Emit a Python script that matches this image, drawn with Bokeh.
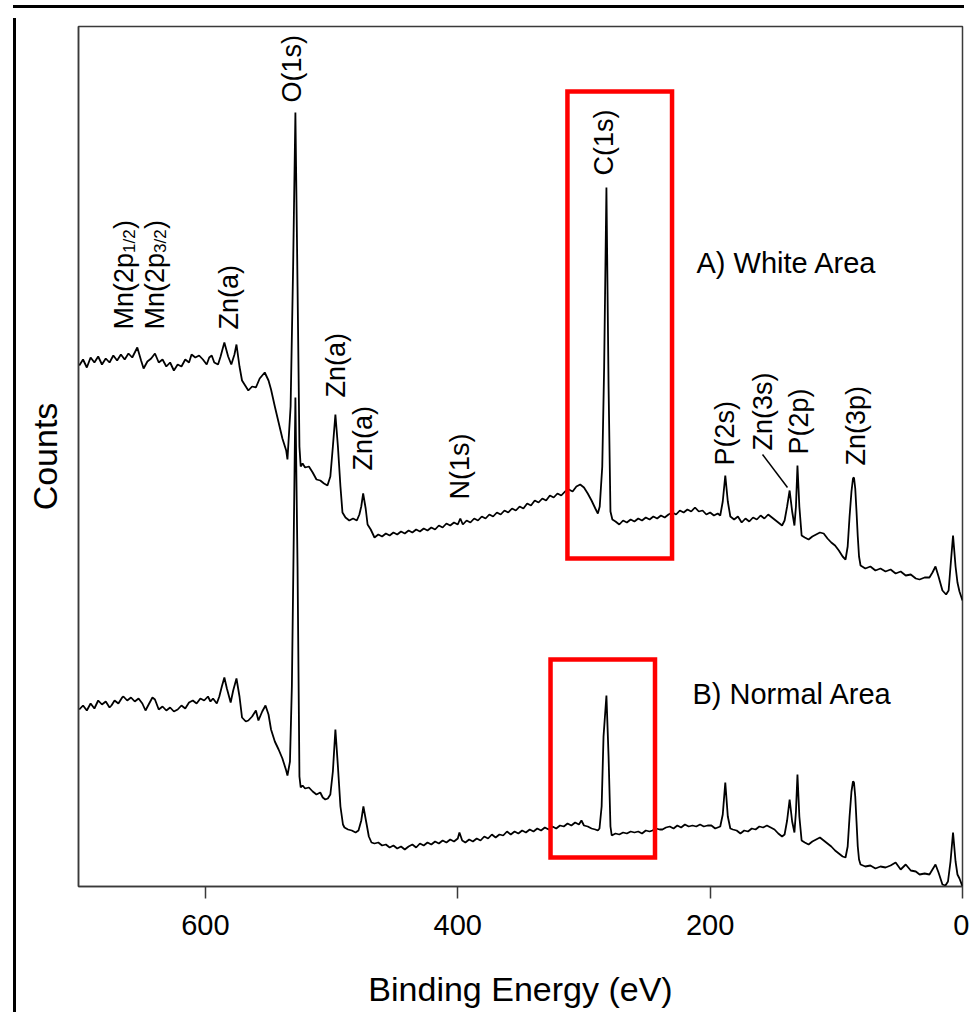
from math import pi
from bokeh.plotting import figure
from bokeh.models import Range1d, FixedTicker, Div, Spacer
from bokeh.core.properties import value
from bokeh.embed import file_html
from bokeh.resources import INLINE
from bokeh.layouts import column, row

FONT = "Liberation Sans"

# ---------------- data (binding energy in eV, counts in arbitrary units) ----------------
energy_A = [700, 697, 694, 691, 688, 685, 682, 679, 676, 673, 670, 667, 664, 661, 658, 654, 651, 649, 646, 643,
            640, 637, 634, 631, 628, 625, 622, 619, 616, 613, 611, 608, 605, 602, 599, 597, 595, 593, 590, 588,
            585, 582, 579.5, 577, 575.4, 573, 571, 568, 566, 563, 560, 557, 553, 550, 548, 545, 542, 539, 536, 535,
            532.5, 530.5, 528.7, 527, 525.5, 524.5, 523, 521, 518, 515, 512, 509, 506, 503.3, 501, 499, 497, 495, 493, 491.4,
            489, 486, 483, 480, 478, 476.5, 475, 473, 471.5, 469, 466, 463, 460, 457, 454, 451, 448, 445, 442, 439,
            436, 433, 430, 427, 424, 421, 418, 415, 412, 409, 406, 403, 400, 398, 396, 393, 390, 387, 384, 381,
            378, 375, 372, 369, 366, 363, 360, 357, 354, 351, 348, 345, 342, 339, 336, 333, 330, 327, 324, 321,
            318, 315, 312, 309, 306, 303, 300, 297, 294, 291, 289, 287.5, 285.5, 284, 282.2, 280.5, 279, 277.5, 275, 272,
            269, 266, 263, 260, 257, 254, 251, 248, 245, 242, 239, 236, 233, 230, 227, 224, 221, 218, 215, 212,
            209, 206, 203, 200, 197, 194, 192, 190, 188, 186, 184, 181, 178, 175, 172, 169, 166, 163, 160, 157,
            154, 151, 148, 145, 143, 141, 139, 137, 135, 133.2, 132, 130.8, 129.3, 127.5, 125, 122, 119, 116, 113, 110,
            107, 104, 101, 98, 95, 92.7, 91, 89.5, 88, 86.8, 86, 85, 84, 83, 82, 80.8, 77, 73, 69, 65,
            61, 57, 53, 49, 45, 41, 37, 34, 30, 26.2, 23.8, 21.4, 19, 15.9, 13, 11, 9.5, 7.5, 5.5, 4,
            2.4, 0]
counts_A = [521, 527, 519, 529, 524, 530, 522, 528, 524, 531, 526, 532, 527, 533, 529, 539, 526, 518, 525, 528,
            533, 524, 527, 520, 524, 516, 522, 520, 527, 524, 532, 529, 531, 527, 522, 529, 531, 524, 522, 530,
            544, 530, 522, 532, 542, 520, 506, 500, 496, 500, 499, 508, 514, 506, 497, 480, 464, 448, 436, 427,
            480, 620, 774, 600, 440, 420, 423, 419, 420, 414, 407, 406, 403, 401, 410, 440, 472, 440, 400, 374,
            369, 366, 368, 366, 372, 380, 393, 378, 362, 357, 349, 352, 350, 353, 351, 354, 352, 355, 353, 356,
            354, 357, 355, 358, 356, 359, 357, 361, 359, 363, 361, 364, 362, 368, 362, 366, 364, 368, 366, 370,
            368, 372, 370, 374, 372, 376, 374, 378, 376, 380, 378, 383, 381, 386, 384, 388, 386, 391, 389, 393,
            391, 395, 397, 395, 400, 402, 399, 393, 386, 378, 373, 380, 420, 520, 699, 500, 375, 367, 365, 362,
            366, 364, 367, 365, 368, 366, 369, 367, 370, 368, 371, 369, 372, 374, 372, 376, 374, 377, 375, 379,
            375, 376, 372, 374, 371, 373, 371, 385, 411, 385, 370, 367, 370, 364, 368, 365, 369, 367, 371, 368,
            372, 369, 366, 363, 361, 366, 380, 396, 375, 361, 380, 421, 380, 351, 349, 347, 350, 352, 354, 353,
            348, 344, 341, 336, 330, 327, 340, 370, 395, 408, 409, 398, 375, 350, 330, 321, 318, 320, 316, 318,
            315, 317, 313, 315, 311, 312, 308, 307, 309, 309, 314, 320, 310, 296, 292, 296, 320, 351, 320, 304,
            295, 286]

energy_B = [700, 697, 694, 691, 688, 685, 682, 679, 676, 674.5, 672, 669, 666, 665, 662, 659, 656, 653, 650, 647.5,
            645, 642, 640, 637, 634, 631, 628, 625, 622, 619, 616, 613, 610, 607, 604, 601, 598, 596, 594, 591,
            589, 587, 585, 583, 580, 578, 575.4, 573, 571, 568, 566, 563, 560, 558, 555, 552.4, 550, 548, 545, 542,
            539, 536, 535, 533, 531.5, 530, 528.7, 527, 525.5, 524.5, 523, 521, 518, 515, 512, 509, 507, 505, 503, 501,
            499, 497, 495, 493, 491, 489.8, 487, 484, 481, 478.7, 476.5, 474.8, 472.5, 470.5, 468.4, 466, 463, 460, 457, 454,
            451, 448, 445, 442, 439, 436, 433, 430, 427, 424, 421, 418, 415, 412, 409, 406, 403, 400, 398.7, 396.5,
            394, 391, 388, 385, 382, 379, 376, 373, 370, 367, 364, 361, 358, 355, 352, 349, 346, 343, 340, 337,
            334, 331, 328, 325, 322, 319, 316, 313, 310, 307, 304, 302, 300, 297, 294, 291, 289, 287.7, 286, 284.5,
            282.2, 280.5, 279, 278, 275, 272, 269, 266, 263, 260, 257, 254, 251, 248, 245.7, 243, 240, 237.8, 235, 232,
            229, 226, 223, 220, 217, 214, 211, 208, 205, 202, 199, 196, 194, 192, 190, 188, 186, 184, 182, 179,
            176, 173, 170, 167, 164, 161, 158, 155, 152, 149, 146, 143, 141, 139, 137, 135, 133.2, 132, 130.8, 129.3,
            127.5, 125, 122, 119, 116, 113, 110, 107, 104, 101, 98, 95, 92.7, 91, 89.5, 88, 86.8, 86, 85, 84,
            83, 82, 80.8, 77, 73, 69, 65, 61, 57, 53, 49, 45, 41, 37, 34, 30, 26.2, 23.8, 21.4, 19,
            15.9, 13.5, 11.5, 9.5, 7.5, 5.5, 4, 2.4, 0]
counts_B = [177, 181, 176, 183, 178, 186, 182, 185, 179, 181, 186, 183, 189, 190, 186, 189, 185, 188, 183, 176,
            182, 189, 187, 177, 180, 176, 179, 175, 177, 181, 178, 184, 186, 183, 188, 186, 190, 185, 188, 183,
            190, 200, 209, 198, 184, 196, 208, 190, 169, 165, 166, 170, 176, 166, 175, 181, 172, 157, 145, 137,
            128, 116, 111, 125, 200, 350, 489, 320, 110, 99, 101, 98, 99, 95, 92, 94, 89, 87, 88, 92,
            115, 157, 120, 80, 62, 59, 57, 56, 54, 56, 66, 80, 64, 50, 44, 43, 44, 41, 42, 39,
            41, 38, 40, 37, 40, 42, 39, 43, 41, 44, 42, 45, 43, 46, 44, 47, 45, 48, 54, 46,
            44, 47, 45, 48, 46, 50, 48, 52, 49, 52, 51, 55, 52, 55, 53, 56, 54, 57, 55, 58,
            56, 59, 57, 60, 58, 61, 60, 63, 61, 64, 62, 66, 61, 60, 58, 57, 56, 58, 80, 150,
            191, 130, 60, 51, 53, 52, 54, 53, 55, 54, 55, 53, 56, 55, 56, 58, 57, 57, 59, 60,
            58, 61, 59, 62, 60, 61, 60, 62, 60, 61, 61, 58, 59, 60, 72, 104, 70, 58, 57, 56,
            53, 56, 55, 58, 57, 60, 59, 61, 59, 57, 53, 50, 52, 66, 87, 65, 54, 75, 112, 70,
            46, 44, 42, 45, 47, 49, 46, 43, 40, 36, 33, 30, 29, 40, 70, 95, 105, 104, 90, 65,
            40, 27, 22, 20, 21, 18, 20, 19, 21, 24, 17, 22, 16, 15, 12, 13, 12, 17, 22, 14,
            2, 1, 5, 25, 54, 25, 12, 8, 0]

xticks = [0, 200, 400, 600]

# ---------------- figure ----------------
p = figure(width=948, height=998, x_range=Range1d(700.6, 0), y_range=Range1d(0, 860),
           output_backend="svg", toolbar_location=None,
           min_border_left=57, min_border_right=7, min_border_top=13, min_border_bottom=125)
p.grid.visible = False
p.background_fill_color = "white"
p.border_fill_color = "white"
p.outline_line_color = "#3a3a3a"
p.outline_line_width = 1.5
p.outline_line_alpha = 1.0

xa = p.xaxis[0]
xa.ticker = FixedTicker(ticks=xticks)
xa.axis_line_color = "#3a3a3a"
xa.axis_line_width = 1.5
xa.major_tick_line_color = "#3a3a3a"
xa.major_tick_line_width = 1.5
xa.major_tick_in = 0
xa.major_tick_out = 12
xa.minor_tick_line_color = None
xa.major_label_text_font = FONT
xa.major_label_text_font_size = "29px"
xa.major_label_text_color = "black"
xa.major_label_standoff = 16
xa.axis_label = "Binding Energy (eV)"
xa.axis_label_text_font = FONT
xa.axis_label_text_font_size = "34px"
xa.axis_label_text_font_style = "normal"
xa.axis_label_text_color = "black"
xa.axis_label_standoff = 32

ya = p.yaxis[0]
ya.ticker = FixedTicker(ticks=[])
ya.axis_line_color = "#3a3a3a"
ya.axis_line_width = 1.5
ya.major_tick_out = 0
ya.major_tick_in = 0
ya.minor_tick_line_color = None
ya.major_label_text_font_size = "0px"
ya.axis_label = "Counts"
ya.axis_label_text_font = FONT
ya.axis_label_text_font_size = "34px"
ya.axis_label_text_font_style = "normal"
ya.axis_label_text_color = "black"
ya.axis_label_standoff = 15

# spectra
p.line(energy_A, counts_A, line_color="black", line_width=1.8)
p.line(energy_B, counts_B, line_color="black", line_width=1.8)

# red boxes around C(1s)
p.quad(left=[313.1], right=[230.2], top=[795], bottom=[328], fill_color=None,
       line_color="#ff0000", line_width=4.5, line_join="miter")
p.quad(left=[326.5], right=[243.7], top=[227], bottom=[29], fill_color=None,
       line_color="#ff0000", line_width=4.5, line_join="miter")

# rotated peak labels
lab_text = ["O(1s)", "Zn(a)", "Zn(a)", "Zn(a)", "N(1s)", "C(1s)", "P(2s)", "Zn(3s)", "P(2p)", "Zn(3p)"]
lab_x = [531.5, 581.5, 496.7, 475.3, 398.4, 283.8, 188.4, 158.3, 129.8, 84.6]
lab_y = [784, 557, 489, 416, 387, 711, 421, 436, 432, 421]
p.text(x=lab_x, y=lab_y, text=lab_text, angle=pi / 2, text_font=value(FONT), text_font_size="27px",
       text_align="left", text_baseline="alphabetic", text_color="black")

# Mn labels with subscripts
mn_x = [664.8, 640.2]
mn_y = [557, 557]
p.text(x=mn_x, y=mn_y, text=["Mn(2p", "Mn(2p"], angle=pi / 2, text_font=value(FONT),
       text_font_size="27px", text_align="left", text_baseline="alphabetic", text_color="black")
p.text(x=mn_x, y=mn_y, text=["1/2", "3/2"], angle=pi / 2, text_font=value(FONT),
       text_font_size="17px", text_align="left", text_baseline="alphabetic", text_color="black",
       x_offset=6, y_offset=-76.5)
p.text(x=mn_x, y=mn_y, text=[")", ")"], angle=pi / 2, text_font=value(FONT),
       text_font_size="27px", text_align="left", text_baseline="alphabetic", text_color="black",
       y_offset=-100.5)

# leader line for Zn(3s)
p.segment(x0=[158.5], y0=[432], x1=[138.7], y1=[399], line_color="black", line_width=1.5)

# sample labels
p.text(x=[210.8, 214.0], y=[624, 193], text=["A) White Area", "B) Normal Area"],
       text_font=value(FONT), text_font_size="29px", text_align="left",
       text_baseline="alphabetic", text_color="black")

# outer frame (left and top edges) of the original figure
top_line = Div(width=951, height=3, styles={"background-color": "black"})
left_line = Div(width=3, height=998, styles={"background-color": "black"})
layout = column(row(Spacer(width=8, height=3), top_line),
                row(Spacer(width=8, height=998), left_line, p))

open("out.html", "w").write(file_html(layout, INLINE))
